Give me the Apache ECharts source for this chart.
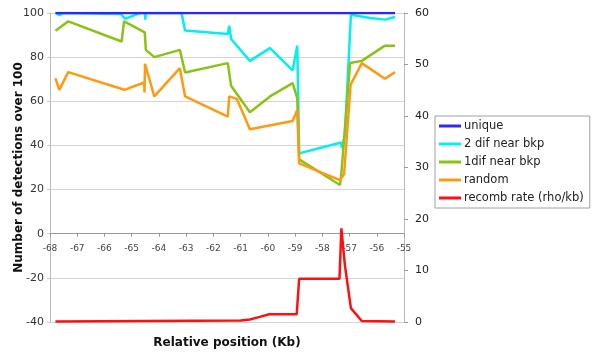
<!DOCTYPE html>
<html>
<head>
<meta charset="utf-8">
<script src="https://cdn.jsdelivr.net/npm/echarts@6/dist/echarts.min.js"></script>
<style>
  html, body { margin: 0; padding: 0; background: #ffffff; }
  #chart { width: 592px; height: 354px; }
</style>
</head>
<body>
<div id="chart"></div>
<script>
// Position along the region (Kb) and detection counts per probe class
const uniquePos = [-67.8, -55.33];
const uniqueVals = [100, 100];

const dif2Pos = [-67.8, -67.65, -67.5, -65.4, -65.24, -64.7, -64.52, -64.5, -64.48, -63.17, -63.04, -61.47, -61.42, -61.35, -60.66, -59.92, -59.09, -58.92, -58.85, -57.31, -57.28, -57.17, -56.95, -56.25, -55.7, -55.33];
const dif2Vals = [100, 99, 100, 99.5, 97.3, 100, 100, 97, 100, 100, 92.1, 90.5, 94.2, 88.2, 78.3, 84.1, 74, 85.2, 36.4, 41.3, 38.8, 44.8, 99.2, 97.7, 97, 98.2];

const dif1Pos = [-67.8, -67.33, -65.37, -65.28, -64.52, -64.48, -64.17, -63.23, -63.04, -61.47, -61.35, -60.66, -59.92, -59.09, -58.92, -58.85, -57.35, -57.3, -56.98, -56.55, -55.7, -55.33];
const dif1Vals = [92, 96.2, 87.1, 96.2, 91.2, 83.3, 80, 83.3, 73, 77.3, 67, 55, 62.2, 68.2, 61.4, 33.7, 22.1, 27.4, 77.3, 78.3, 85.2, 85.2];

const randomPos = [-67.8, -67.66, -67.33, -65.27, -64.54, -64.53, -64.51, -64.45, -64.17, -63.23, -63.04, -61.47, -61.42, -61.14, -60.66, -59.09, -58.92, -58.85, -57.35, -57.2, -56.96, -56.55, -55.7, -55.33];
const randomVals = [70.5, 65.2, 73.2, 65.2, 68.5, 64, 77, 74.3, 62.2, 75, 62.2, 53.1, 62.2, 61.1, 47.3, 51.1, 56.1, 31.9, 24.3, 27, 67.5, 77.3, 70.2, 73.2];

// Recombination rate (rho/kb), plotted on the right axis
const recombPos = [-67.8, -61.0, -60.66, -60.3, -59.95, -58.94, -58.85, -57.37, -57.3, -57.17, -56.95, -56.55, -55.33];
const recombVals = [0.1, 0.3, 0.5, 1.0, 1.5, 1.5, 8.4, 8.4, 18.2, 11, 2.7, 0.2, 0.1];

const leftTicks = { min: -40, max: 100, interval: 20 };
const rightTicks = { min: 0, max: 60, interval: 10 };
const xTicks = { min: -68, max: -55, interval: 1 };

const seriesNames = ['unique', '2 dif near bkp', '1dif near bkp', 'random', 'recomb rate (rho/kb)'];
const seriesColors = ['#2a2af0', '#00f0f0', '#8cc214', '#ff9a10', '#ff1010'];

function pairs(xs, ys) { return xs.map((x, i) => [x, ys[i]]); }

const FONT = '"DejaVu Sans", Verdana, sans-serif';
const GRID_TOP = 13, GRID_BOTTOM = 32, HEIGHT = 354;
// The position axis crosses the left axis at zero: shift it up from the grid bottom
const plotH = HEIGHT - GRID_TOP - GRID_BOTTOM;
const zeroShift = plotH * (0 - leftTicks.min) / (leftTicks.max - leftTicks.min);

const chart = echarts.init(document.getElementById('chart'), null, { renderer: 'canvas' });

const seriesData = [
  pairs(uniquePos, uniqueVals),
  pairs(dif2Pos, dif2Vals),
  pairs(dif1Pos, dif1Vals),
  pairs(randomPos, randomVals),
  pairs(recombPos, recombVals)
];

chart.setOption({
  animation: false,
  backgroundColor: '#ffffff',
  grid: {
    left: 50, right: 188, top: GRID_TOP, bottom: GRID_BOTTOM,
    containLabel: false, outerBoundsMode: 'none'
  },
  legend: {
    orient: 'vertical',
    left: 435, top: 116,
    padding: [4, 6, 4, 4],
    itemGap: 6,
    itemWidth: 22, itemHeight: 3,
    icon: 'rect',
    borderColor: '#a0a0a0', borderWidth: 1,
    backgroundColor: '#ffffff',
    textStyle: { fontFamily: FONT, fontSize: 11.5, color: '#222', padding: [0, 0, 0, -2] },
    data: seriesNames
  },
  xAxis: {
    type: 'value',
    min: xTicks.min, max: xTicks.max, interval: xTicks.interval,
    position: 'bottom',
    offset: -zeroShift,
    axisLine: { show: true, onZero: false, lineStyle: { color: '#999', width: 1 } },
    axisTick: { show: true, length: 3, lineStyle: { color: '#999' } },
    axisLabel: { fontFamily: FONT, fontSize: 9, color: '#444', margin: 10 },
    splitLine: { show: false }
  },
  yAxis: [
    {
      type: 'value',
      min: leftTicks.min, max: leftTicks.max, interval: leftTicks.interval,
      name: 'Number of detections over 100',
      nameLocation: 'middle', nameGap: 25, nameRotate: 90,
      nameMoveOverlap: false,
      nameTextStyle: { fontFamily: FONT, fontSize: 12, fontWeight: 'bold', color: '#111' },
      axisLine: { show: true, lineStyle: { color: '#bbb' } },
      axisTick: { show: true, length: 3, lineStyle: { color: '#ccc' } },
      axisLabel: { fontFamily: FONT, fontSize: 11, color: '#333', margin: 6 },
      splitLine: { show: true, lineStyle: { color: '#d4d4d4', width: 1 } }
    },
    {
      type: 'value', position: 'right',
      min: rightTicks.min, max: rightTicks.max, interval: rightTicks.interval,
      axisLine: { show: true, lineStyle: { color: '#bbb' } },
      axisTick: { show: true, inside: false, length: 4, lineStyle: { color: '#999' } },
      axisLabel: { fontFamily: FONT, fontSize: 11, color: '#222', margin: 11 },
      splitLine: { show: false }
    }
  ],
  graphic: [
    {
      type: 'text', x: 227, y: 343,
      style: {
        text: 'Relative position (Kb)', textAlign: 'center', textVerticalAlign: 'middle',
        font: 'bold 12px ' + FONT, fill: '#111'
      }
    }
  ],
  series: seriesNames.map((name, i) => ({
    name: name,
    type: 'line',
    yAxisIndex: i === 4 ? 1 : 0,
    data: seriesData[i],
    showSymbol: false,
    symbol: 'none',
    lineStyle: { color: seriesColors[i], width: 2.5 },
    itemStyle: { color: seriesColors[i] },
    z: i === 0 ? 6 : 2 + i * 0.1
  }))
});
</script>
</body>
</html>
